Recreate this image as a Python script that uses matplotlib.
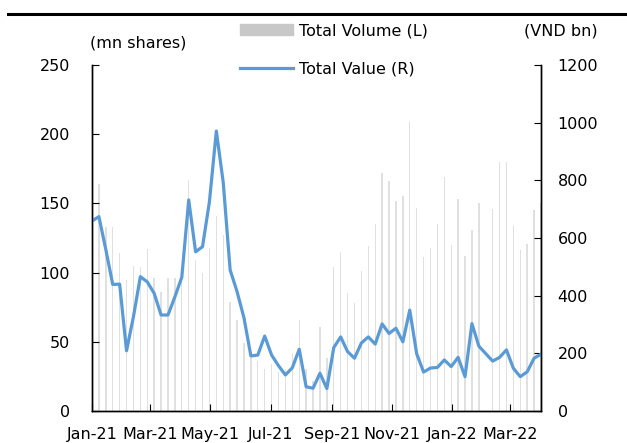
import numpy as np
import pandas as pd
import matplotlib
matplotlib.use('Agg')
import matplotlib.pyplot as plt
from matplotlib.lines import Line2D
from matplotlib.patches import Patch

# weekly (Friday) data, Tet week 2022-02-04 had no trading
dates = pd.date_range('2021-01-01', '2022-04-01', freq='7D')
dates = dates[dates != pd.Timestamp('2022-02-04')]

# total volume, mn shares (left axis)
volume = [150, 164, 133, 133, 114, 95, 105, 104, 117, 96,
          86, 96, 96, 97, 167, 109, 100, 118, 141, 127,
          79, 66, 49, 41, 36, 30, 34, 28, 30, 42,
          66, 30, 22, 61, 38, 104, 115, 85, 78, 101,
          119, 135, 172, 166, 152, 155, 209, 147, 111, 118,
          135, 169, 120, 153, 112, 131, 150, 146, 180, 180,
          134, 116, 121, 145, 150]

# total value, VND bn (right axis)
value = [659, 674, 560, 439, 440, 209, 327, 466, 448, 408,
         333, 333, 396, 464, 732, 552, 570, 726, 971, 792,
         489, 414, 323, 191, 194, 260, 194, 157, 125, 150,
         214, 84, 79, 131, 78, 220, 257, 206, 183, 236,
         257, 232, 302, 269, 287, 240, 350, 199, 135, 149,
         151, 177, 154, 186, 119, 303, 225, 173, 186, 212,
         148, 119, 136, 183, 197]

tick_dates = pd.date_range('2021-01-01', '2022-03-01', freq='2MS')
tick_labels = [d.strftime('%b-%y') for d in tick_dates]

plt.rcParams['font.family'] = 'DejaVu Sans'
fs = 11.5

fig = plt.figure(figsize=(6.27, 4.43), dpi=100)
ax = fig.add_axes([92/627, 1-411/443, (541-92)/627, (411-65)/443])
ax2 = ax.twinx()

ax.bar(dates, volume, width=1.4, color='#e0e0e0', zorder=1)
ax2.plot(dates, value, color='#5b9bd5', lw=2.3)

ax.set_xlim(pd.Timestamp('2021-01-01'), pd.Timestamp('2022-04-01'))
ax.set_ylim(0, 250)
ax2.set_ylim(0, 1200)
ax.set_yticks(np.arange(0, 251, 50))
ax2.set_yticks(np.arange(0, 1201, 200))
ax.set_xticks(tick_dates)
ax.set_xticklabels(tick_labels)

for a in (ax, ax2):
    a.spines['top'].set_visible(False)
    for s in a.spines.values():
        s.set_linewidth(1.0)
ax.tick_params(axis='y', direction='in', length=5, pad=16, labelsize=fs)
ax.tick_params(axis='x', direction='in', length=5, pad=11.5, labelsize=fs)
ax2.tick_params(axis='y', direction='in', length=5, pad=12, labelsize=fs)

fig.text(90/627, 1-43/443, '(mn shares)', fontsize=fs, va='center', ha='left')
fig.text(598/627, 1-31/443, '(VND bn)', fontsize=fs, va='center', ha='right')

handles = [Patch(color='#c8c8c8'), Line2D([], [], color='#5b9bd5', lw=2.3)]
ax2.legend(handles, ['Total Volume (L)', 'Total Value (R)'], loc='upper left',
           bbox_to_anchor=(240/627, 1-23/443), bbox_transform=fig.transFigure,
           frameon=False, fontsize=fs, borderpad=0, borderaxespad=0,
           handlelength=3.3, handletextpad=0.4, labelspacing=1.45)

fig.add_artist(Line2D([8/627, 1], [1-14/443, 1-14/443], color='black', lw=2.2))

fig.savefig('out.png', dpi=100)
